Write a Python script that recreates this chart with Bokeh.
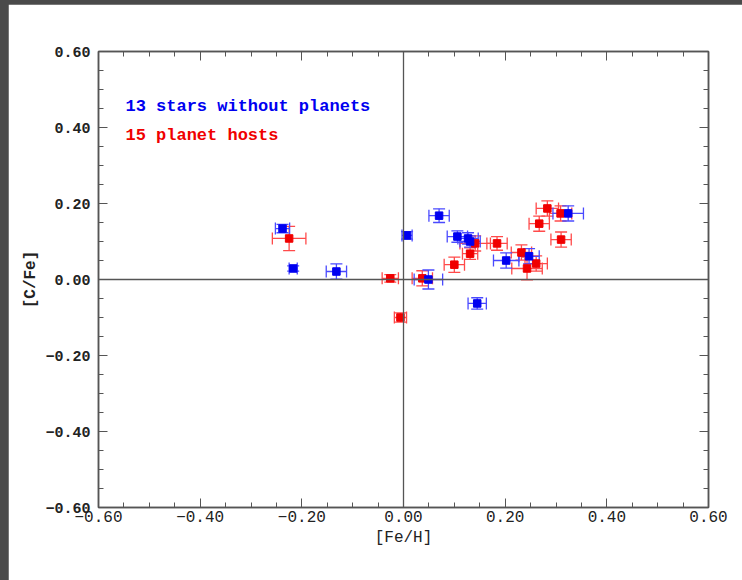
from bokeh.plotting import figure
from bokeh.layouts import column
from bokeh.models import (ColumnDataSource, Whisker, TeeHead, Span, Label,
                          LinearAxis, FixedTicker, Range1d)
from bokeh.embed import file_html
from bokeh.resources import INLINE

# ---- data ----
blue_x = [-0.238, -0.217, -0.132, 0.007, 0.049, 0.070, 0.106, 0.127, 0.131, 0.145, 0.202, 0.247, 0.324]
blue_y = [0.134, 0.029, 0.021, 0.116, 0.000, 0.168, 0.113, 0.108, 0.100, -0.063, 0.050, 0.061, 0.174]
blue_xerr = [0.014, 0.008, 0.020, 0.010, 0.028, 0.020, 0.020, 0.020, 0.020, 0.018, 0.025, 0.020, 0.030]
blue_yerr = [0.011, 0.007, 0.020, 0.010, 0.025, 0.018, 0.015, 0.015, 0.015, 0.015, 0.020, 0.020, 0.020]

red_x = [-0.225, -0.026, -0.006, 0.037, 0.100, 0.131, 0.141, 0.184, 0.232, 0.243, 0.261, 0.283, 0.309, 0.267, 0.310]
red_y = [0.108, 0.003, -0.100, 0.003, 0.039, 0.068, 0.095, 0.095, 0.071, 0.029, 0.042, 0.187, 0.174, 0.147, 0.105]
red_xerr = [0.033, 0.016, 0.012, 0.020, 0.020, 0.015, 0.030, 0.020, 0.020, 0.030, 0.022, 0.022, 0.022, 0.020, 0.020]
red_yerr = [0.032, 0.010, 0.012, 0.020, 0.020, 0.015, 0.020, 0.018, 0.020, 0.030, 0.020, 0.020, 0.020, 0.020, 0.020]

ticks = [-0.6, -0.4, -0.2, 0.0, 0.2, 0.4, 0.6]
tick_labels = ["\u22120.60", "\u22120.40", "\u22120.20", "0.00", "0.20", "0.40", "0.60"]
minor_ticks = [round(-0.6 + 0.05 * i, 2) for i in range(25)]

legend_texts = ["13 stars without planets", "15 planet hosts"]
x_label = "[Fe/H]"
y_label = "[C/Fe]"

BLUE = "#0000f0"
BLUE_ERR = "#4a4aff"
RED = "#f00000"
RED_ERR = "#ff4a4a"
AXIS = "#555555"
FONT = "Liberation Mono"

p = figure(width=734, height=576, output_backend="svg", toolbar_location=None,
           x_range=Range1d(-0.6, 0.6), y_range=Range1d(-0.6, 0.6),
           min_border_left=90, min_border_right=34, min_border_top=47, min_border_bottom=73,
           x_axis_label=x_label, y_axis_label=y_label)
p.grid.visible = False
p.outline_line_color = AXIS
p.outline_line_width = 1.5
p.background_fill_color = "white"
p.border_fill_color = "white"

overrides = {t: l for t, l in zip(ticks, tick_labels)}
blank = {t: "" for t in ticks}

def style_axis(ax, show_labels, bold):
    ax.ticker = FixedTicker(ticks=ticks, minor_ticks=minor_ticks)
    ax.axis_line_color = AXIS
    ax.axis_line_width = 1.5
    ax.major_tick_line_color = AXIS
    ax.minor_tick_line_color = AXIS
    ax.major_tick_in = 9
    ax.major_tick_out = 0
    ax.minor_tick_in = 5
    ax.minor_tick_out = 0
    ax.major_label_text_font = FONT
    ax.major_label_text_color = "#222222"
    ax.major_label_text_font_style = "bold" if bold else "normal"
    ax.major_label_text_font_size = "15px"
    if show_labels:
        ax.major_label_overrides = overrides
    else:
        ax.major_label_overrides = blank
        ax.major_label_text_color = None
        ax.major_label_standoff = 0

xa = p.xaxis[0]
ya = p.yaxis[0]
style_axis(xa, True, False)
style_axis(ya, True, True)
xa.major_label_text_font_size = "16px"
xa.major_label_standoff = 3
ya.major_label_standoff = 8
for ax in (xa, ya):
    ax.axis_label_text_font = FONT
    ax.axis_label_text_font_size = "16px"
    ax.axis_label_text_font_style = "normal"
    ax.axis_label_text_color = "#222222"
xa.axis_label_standoff = 4
ya.axis_label_standoff = 2
ya.axis_label_text_font_style = "bold"

top_ax = LinearAxis()
right_ax = LinearAxis()
style_axis(top_ax, False, False)
style_axis(right_ax, False, False)
p.add_layout(top_ax, "above")
p.add_layout(right_ax, "right")

# zero lines
p.add_layout(Span(location=0, dimension="width", line_color=AXIS, line_width=1.3))
p.add_layout(Span(location=0, dimension="height", line_color=AXIS, line_width=1.3))

def add_series(xs, ys, xe, ye, color, ecolor):
    src = ColumnDataSource(dict(
        x=xs, y=ys,
        xl=[a - e for a, e in zip(xs, xe)], xu=[a + e for a, e in zip(xs, xe)],
        yl=[a - e for a, e in zip(ys, ye)], yu=[a + e for a, e in zip(ys, ye)],
    ))
    wx = Whisker(source=src, base="y", lower="xl", upper="xu", dimension="width",
                 line_color=ecolor, line_width=1.3,
                 lower_head=TeeHead(size=12, line_color=ecolor, line_width=1.3),
                 upper_head=TeeHead(size=12, line_color=ecolor, line_width=1.3))
    wy = Whisker(source=src, base="x", lower="yl", upper="yu", dimension="height",
                 line_color=ecolor, line_width=1.3,
                 lower_head=TeeHead(size=12, line_color=ecolor, line_width=1.3),
                 upper_head=TeeHead(size=12, line_color=ecolor, line_width=1.3))
    p.add_layout(wx)
    p.add_layout(wy)
    p.scatter("x", "y", source=src, marker="square", size=7.5,
              fill_color=color, line_color=color)

add_series(red_x, red_y, red_xerr, red_yerr, RED, RED_ERR)
add_series(blue_x, blue_y, blue_xerr, blue_yerr, BLUE, BLUE_ERR)

# legend texts
p.add_layout(Label(x=-0.547, y=0.455, text=legend_texts[0], text_color=BLUE,
                   text_font=FONT, text_font_size="17px", text_font_style="bold",
                   text_baseline="middle"))
p.add_layout(Label(x=-0.547, y=0.379, text=legend_texts[1], text_color=RED,
                   text_font=FONT, text_font_size="17px", text_font_style="bold",
                   text_baseline="middle"))

layout = column(p, styles={"background-color": "#4a4a4a",
                           "padding-left": "8px", "padding-top": "4px"})

open("out.html", "w").write(file_html(layout, INLINE))
